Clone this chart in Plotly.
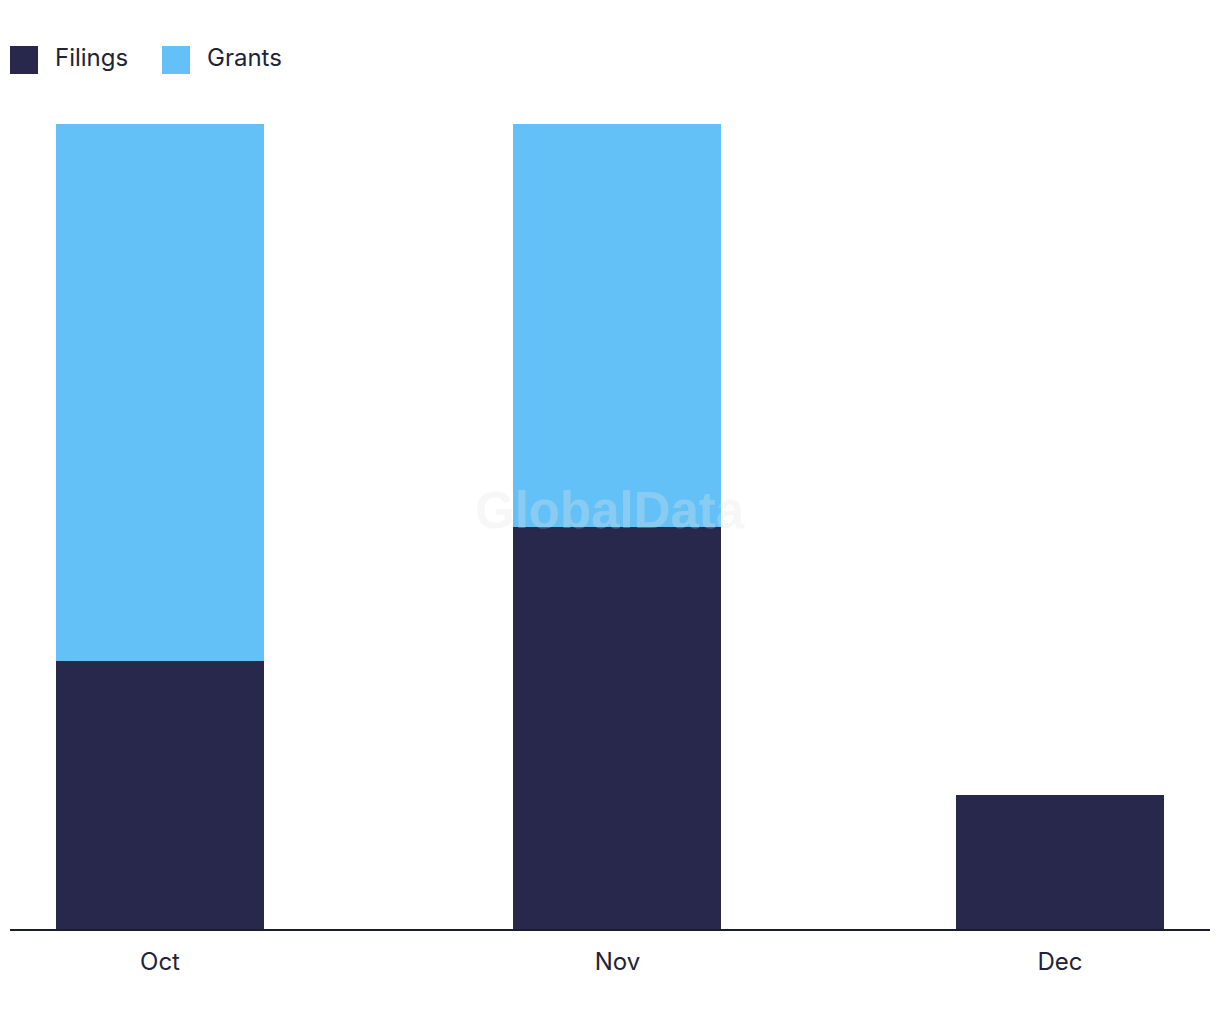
import plotly.graph_objects as go

months = ["2023-10-01", "2023-11-01", "2023-12-01"]
tick_labels = ["Oct", "Nov", "Dec"]
filings = [2, 3, 1]
grants = [4, 3, 0]
series_names = ["Filings", "Grants"]
colors = ["#28284c", "#63c1f8"]

BAR_WIDTH_MS = 14.1 * 86400000

fig = go.Figure()
fig.add_trace(go.Bar(x=months, y=filings, name=series_names[0], marker_color=colors[0],
                     width=BAR_WIDTH_MS, marker_line_width=0))
fig.add_trace(go.Bar(x=months, y=grants, name=series_names[1], marker_color=colors[1],
                     width=BAR_WIDTH_MS, marker_line_width=0))

W, H = 1220, 1020
ml, mr, mt, mb = 10, 10, 124, 91
pw, ph = W - ml - mr, H - mt - mb

def px(x):
    return (x - ml) / pw

def py(y):
    return (H - mb - y) / ph

shapes = []
annotations = []
leg_x = [10, 162]
for i, name in enumerate(series_names):
    x0 = leg_x[i]
    shapes.append(dict(type="rect", xref="paper", yref="paper",
                       x0=px(x0), x1=px(x0 + 28), y0=py(74), y1=py(46),
                       fillcolor=colors[i], line_width=0))
    annotations.append(dict(text=name, xref="paper", yref="paper",
                            x=px(x0 + 43), y=py(58), xanchor="left", yanchor="middle",
                            showarrow=False, font=dict(size=24, color="#222336")))

annotations.append(dict(text="<b>GlobalData</b>", xref="paper", yref="paper",
                        x=px(610), y=py(511), xanchor="center", yanchor="middle",
                        showarrow=False, font=dict(size=51, color="rgba(230,230,230,0.3)",
                                                   family="Arial, Liberation Sans")))

fig.update_layout(
    barmode="stack",
    width=W, height=H,
    margin=dict(l=ml, r=mr, t=mt, b=mb),
    paper_bgcolor="white", plot_bgcolor="white",
    showlegend=False,
    font=dict(family="Inter, Roboto, sans-serif", size=24, color="#222336"),
    xaxis=dict(type="date", range=["2023-09-20 20:00", "2023-12-11 04:00"],
               tickvals=months, ticktext=tick_labels, showgrid=False,
               showline=True, linecolor="#1c1c30", linewidth=2, ticks="",
               ticklabelstandoff=10, tickfont=dict(size=24), zeroline=False),
    yaxis=dict(range=[0, 6], visible=False, showgrid=False, zeroline=False),
    shapes=shapes,
    annotations=annotations,
)

fig.write_html("out.html")
